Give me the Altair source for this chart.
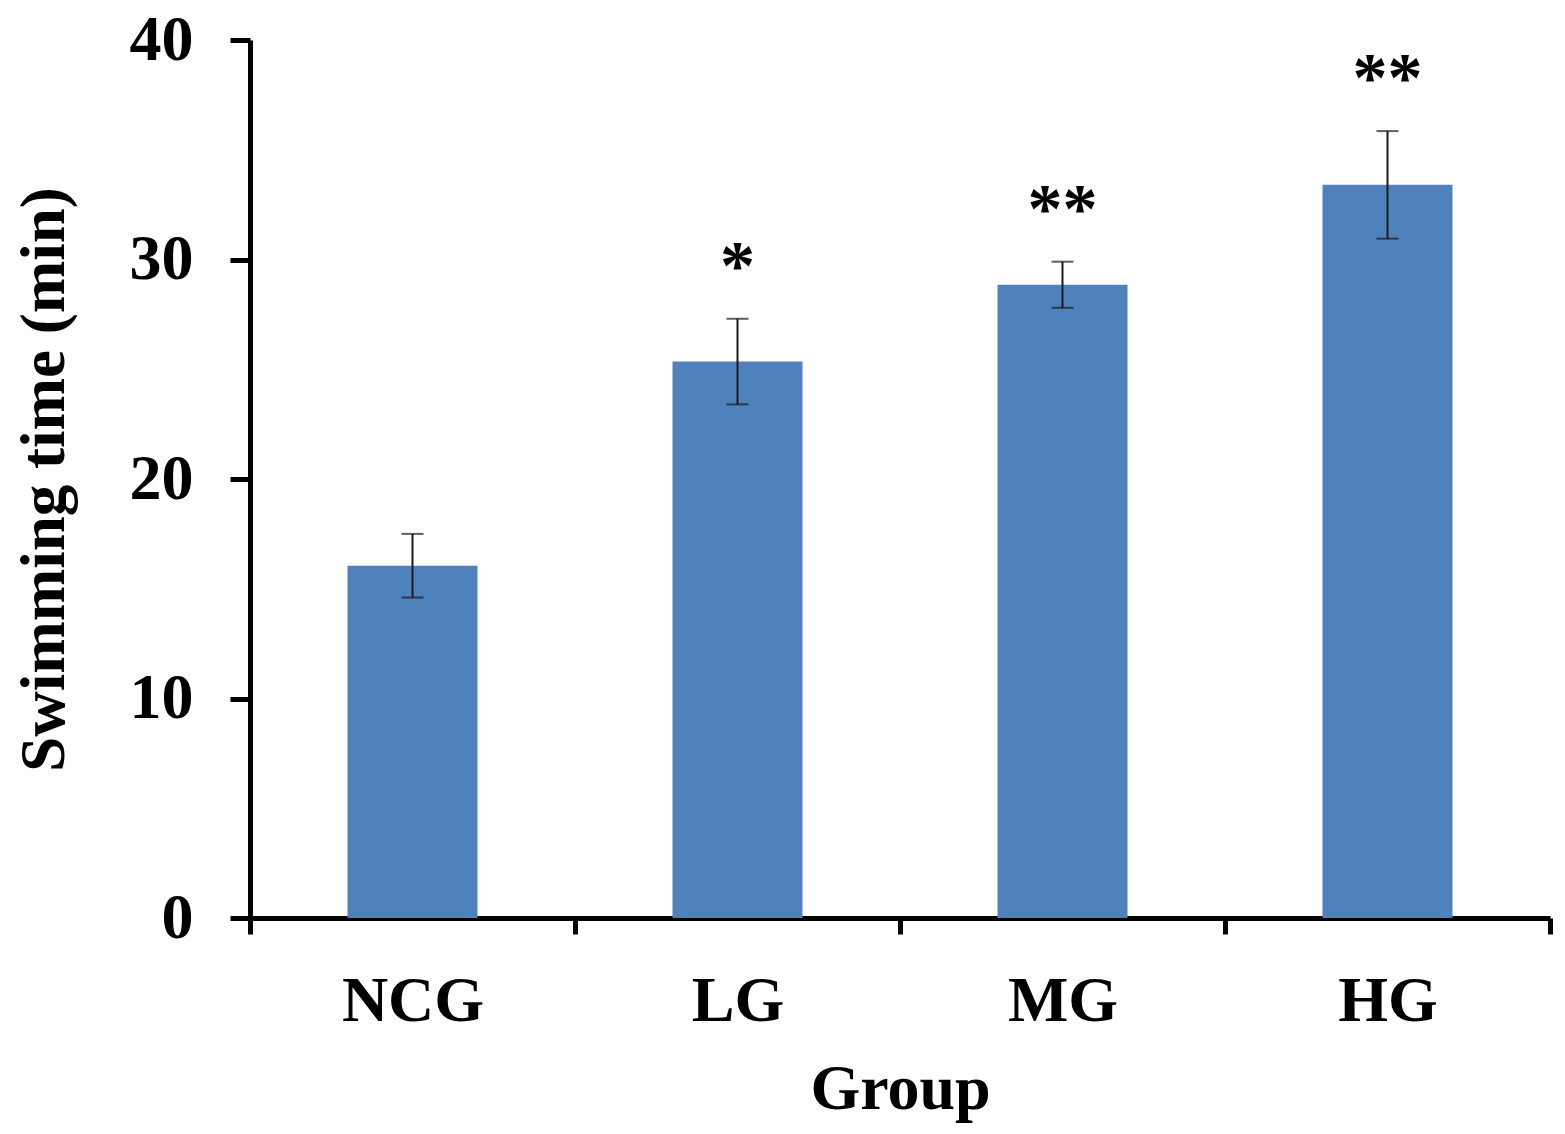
import altair as alt
import pandas as pd

groups = ["NCG", "LG", "MG", "HG"]
means = [16.05, 25.35, 28.85, 33.4]
errors = [1.45, 1.95, 1.05, 2.45]
stars = ["", "*", "**", "**"]

df = pd.DataFrame({
    "group": groups,
    "mean": means,
    "err": errors,
    "star": stars,
})
df["lo"] = df["mean"] - df["err"]
df["hi"] = df["mean"] + df["err"]

FONT = "Liberation Serif"

x = alt.X(
    "group:N",
    sort=groups,
    scale=alt.Scale(paddingInner=0, paddingOuter=0),
    axis=alt.Axis(
        title="Group",
        tickBand="extent",
        labelAngle=0,
        labelFont=FONT,
        labelFontSize=64,
        labelFontWeight="bold",
        labelColor="black",
        labelBaseline="alphabetic",
        labelPadding=86,
        tickSize=16,
        tickWidth=5,
        tickColor="black",
        domainWidth=5,
        domainColor="black",
        titleFont=FONT,
        titleFontSize=64,
        titleFontWeight="bold",
        titleColor="black",
        titleBaseline="alphabetic",
        titleY=190,
    ),
)

y_axis = alt.Axis(
    title="Swimming time (min)",
    values=[0, 10, 20, 30, 40],
    grid=False,
    labelFont=FONT,
    labelFontSize=64,
    labelFontWeight="bold",
    labelColor="black",
    labelBaseline="middle",
    labelPadding=37,
    tickSize=20,
    tickWidth=5,
    tickColor="black",
    domainWidth=5,
    domainColor="black",
    titleFont=FONT,
    titleFontSize=63,
    titleFontWeight="bold",
    titleColor="black",
    titleBaseline="alphabetic",
    titleX=-187,
    titleY=439,
)

yscale = alt.Scale(domain=[0, 40], nice=False)

base = alt.Chart(df)

bars = base.mark_bar(size=130, color="#4F81BD").encode(
    x=x,
    y=alt.Y("mean:Q", scale=yscale, axis=y_axis),
)

rules = base.mark_rule(color="#1a1a1a", strokeWidth=2).encode(
    x=alt.X("group:N", sort=groups),
    y=alt.Y("lo:Q", scale=yscale),
    y2="hi:Q",
)

caps_hi = base.mark_tick(color="#1a1a1a", size=22, thickness=2).encode(
    x=alt.X("group:N", sort=groups),
    y=alt.Y("hi:Q", scale=yscale),
)
caps_lo = base.mark_tick(color="#1a1a1a", size=22, thickness=2).encode(
    x=alt.X("group:N", sort=groups),
    y=alt.Y("lo:Q", scale=yscale),
)

star_text = base.mark_text(
    font=FONT, fontSize=70, fontWeight="bold", color="black",
    baseline="alphabetic", dy=-30,
).encode(
    x=alt.X("group:N", sort=groups),
    y=alt.Y("hi:Q", scale=yscale),
    text="star:N",
)

chart = alt.layer(bars, rules, caps_hi, caps_lo, star_text).properties(
    width=1300,
    height=878,
    background="white",
    autosize=alt.AutoSizeParams(type="none"),
    padding={"left": 242, "top": 32, "right": 5, "bottom": 215},
).configure_view(stroke=None)

chart.save("out.html", embed_options={"renderer": "svg", "actions": False})
